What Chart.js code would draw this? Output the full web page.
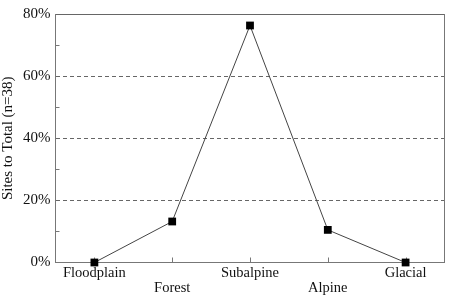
<!DOCTYPE html>
<html>
<head>
<meta charset="utf-8">
<script src="https://cdn.jsdelivr.net/npm/chart.js@4.4.1/dist/chart.umd.min.js"></script>
<style>
  html, body { margin: 0; padding: 0; background: #fff; }
  #wrap { width: 450px; height: 297px; }
</style>
</head>
<body>
<div id="wrap"><canvas id="c"></canvas></div>
<script>
const zones = ['Floodplain', 'Forest', 'Subalpine', 'Alpine', 'Glacial'];
const pctSites = [0, 13.2, 76.3, 10.5, 0];
const yLabelValues = [0, 20, 40, 60, 80];

const serif = 'Liberation Serif';
const axisGray = '#777';

// top/right frame + short inward tick marks
const frameTicks = {
  id: 'frameTicks',
  beforeDatasetsDraw(chart) {
    const {ctx, chartArea: a, scales: {x, y}} = chart;
    ctx.save();
    ctx.strokeStyle = axisGray;
    ctx.lineWidth = 1;
    ctx.beginPath();
    ctx.moveTo(Math.round(a.right) - 0.5, a.top);
    ctx.lineTo(Math.round(a.right) - 0.5, a.bottom);
    zones.forEach((z, i) => {
      const px = Math.round(x.getPixelForValue(i)) + 0.5;
      ctx.moveTo(px, a.bottom);
      ctx.lineTo(px, a.bottom - 5);
    });
    y.ticks.forEach(t => {
      if (!yLabelValues.includes(t.value)) {
        const py = Math.round(y.getPixelForValue(t.value)) + 0.5;
        ctx.moveTo(a.left, py);
        ctx.lineTo(a.left + 4, py);
      }
    });
    ctx.stroke();
    ctx.restore();
  }
};

new Chart(document.getElementById('c'), {
  type: 'line',
  data: {
    labels: zones,
    datasets: [{
      data: pctSites,
      borderColor: '#444',
      borderWidth: 1,
      tension: 0,
      pointStyle: 'rect',
      pointRadius: 5.5,
      pointBackgroundColor: '#000',
      pointBorderColor: '#000',
      pointBorderWidth: 0,
      clip: false,
    }],
  },
  plugins: [frameTicks],
  options: {
    responsive: true,
    maintainAspectRatio: false,
    animation: false,
    events: [],
    layout: {padding: {top: 13, right: 3, bottom: -1.5, left: 0}},
    plugins: {legend: {display: false}, tooltip: {enabled: false}},
    scales: {
      x: {
        offset: true,
        grid: {drawOnChartArea: false, drawTicks: false},
        border: {color: axisGray, width: 1},
        ticks: {
          autoSkip: false,
          maxRotation: 0,
          padding: 3.5,
          color: '#111',
          font: {family: serif, size: 14.5, lineHeight: 1},
          callback: (v, i) => (i % 2 ? ['', zones[i]] : zones[i]),
        },
      },
      y: {
        min: 0,
        max: 80,
        grid: {
          drawTicks: false,
          color: ctx => (yLabelValues.includes(ctx.tick.value) ? '#666' : 'transparent'),
        },
        border: {
          color: axisGray,
          width: 1,
          dash: ctx => (ctx.tick && ctx.tick.value > 0 && ctx.tick.value < 80 ? [4, 3] : []),
        },
        ticks: {
          stepSize: 10,
          padding: 5,
          color: '#111',
          font: {family: serif, size: 15},
          callback: v => (yLabelValues.includes(v) ? v + '%' : ''),
        },
        title: {
          display: true,
          text: 'Sites to Total (n=38)',
          color: '#111',
          padding: {top: 1, bottom: 2},
          font: {family: serif, size: 15, lineHeight: 1},
        },
      },
    },
  },
});
</script>
</body>
</html>
